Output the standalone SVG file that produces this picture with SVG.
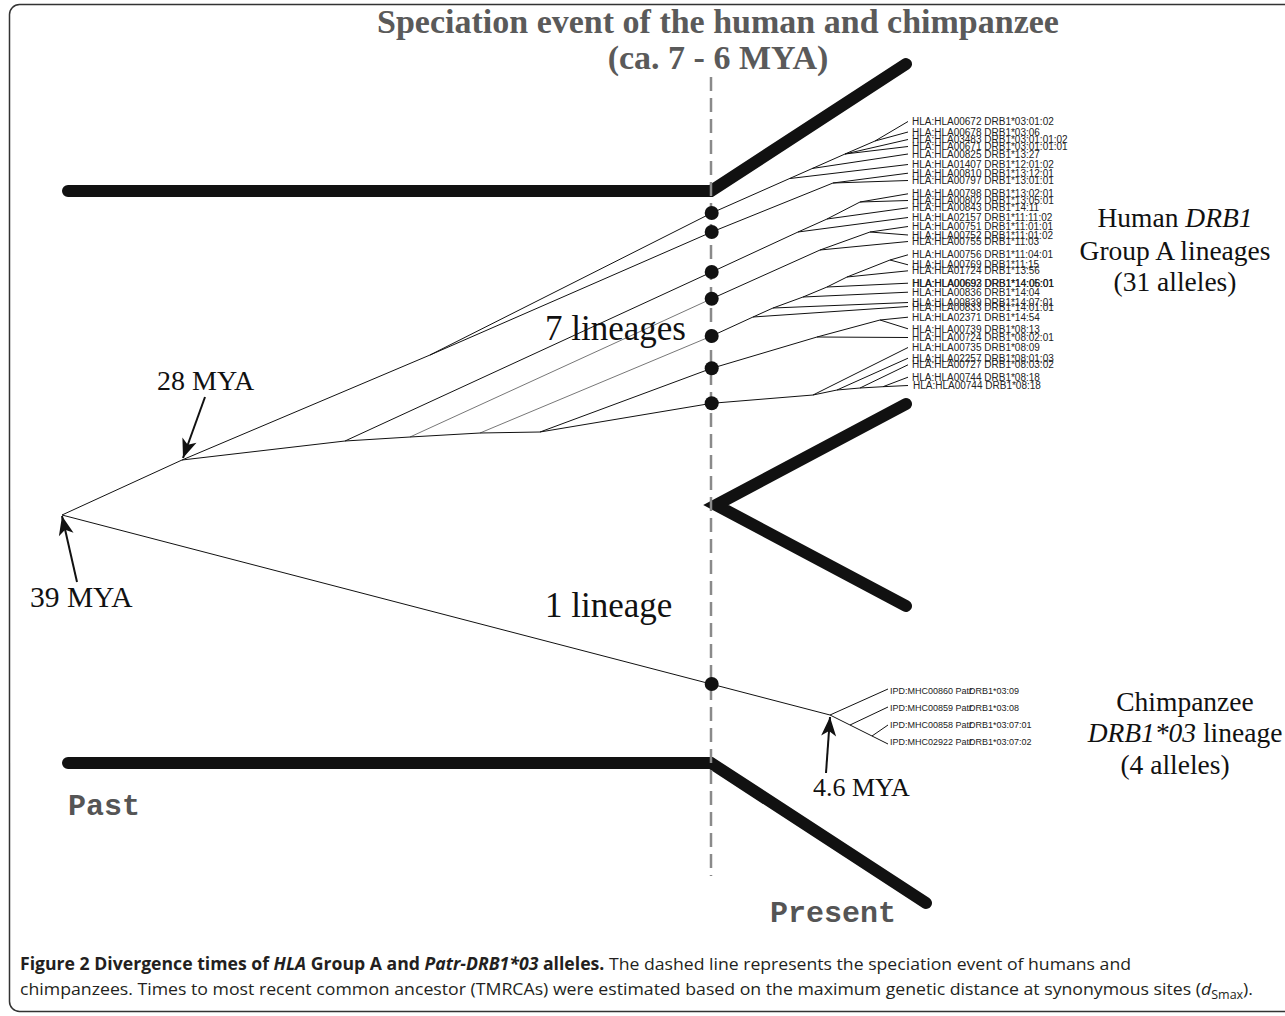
<svg xmlns="http://www.w3.org/2000/svg" width="1285" height="1016" viewBox="0 0 1285 1016">
<defs>
<marker id="arr" viewBox="-20 -9 22 18" refX="0" refY="0" markerWidth="22" markerHeight="18" markerUnits="userSpaceOnUse" orient="auto">
<path d="M0,0 L-19,-7.5 L-14,0 L-19,7.5 Z" fill="#111"/>
</marker>
</defs>
<style>
.frame{fill:none;stroke:#333;stroke-width:1.5}
.thick{fill:none;stroke:#111;stroke-width:12;stroke-linecap:round;stroke-linejoin:miter}
.dash{stroke:#8a8a8a;stroke-width:2.5;stroke-dasharray:14 7;fill:none}
.br{fill:none;stroke:#111;stroke-width:1}
.brg{fill:none;stroke:#777;stroke-width:1}
.dot{fill:#111}
.lbl{font-family:"Liberation Sans",Arial,sans-serif;font-size:10px;fill:#222}
.clbl{font-family:"Liberation Sans",Arial,sans-serif;font-size:9px;fill:#222}
.serif{font-family:"Liberation Serif","Times New Roman",serif;fill:#111}
.title{font-family:"Liberation Serif","Times New Roman",serif;font-weight:bold;font-size:34px;fill:#5a5a5a}
.mono{font-family:"Liberation Mono","Courier New",monospace;font-weight:bold;font-size:30px;fill:#555}
.cap{font-family:"Open Sans","Noto Sans",sans-serif;font-size:17px;fill:#231f20}
.arrow{stroke:#111;stroke-width:2;fill:none}
</style>
<rect class="frame" x="9.5" y="4.5" width="1300" height="1007" rx="10"/>

<g id="title">
<text class="title" x="718" y="33" text-anchor="middle">Speciation event of the human and chimpanzee</text>
<text class="title" x="718" y="69" text-anchor="middle">(ca. 7 - 6 MYA)</text>
</g>

<g id="bands">
<path class="thick" d="M68,191 H711 L906,64"/>
<path class="thick" d="M906,404 L716,505 L906,606"/>
<path class="thick" d="M68,763 H711 L926,903"/>
</g>

<line id="speciation" class="dash" x1="711" y1="77" x2="711" y2="876"/>

<g id="connectors">
<polyline class="br" points="62,515 182,460 430,355 711.7,213"/>
<polyline class="br" points="430,355 711.7,232"/>
<polyline class="br" points="182,460 345,441 711.7,272"/>
<polyline class="br" points="345,441 410,437"/>
<polyline class="brg" points="410,437 711.7,298.7"/>
<polyline class="br" points="410,437 480,433"/>
<polyline class="brg" points="480,433 711.7,336"/>
<polyline class="br" points="480,433 540,432 711.7,368.3"/>
<polyline class="br" points="540,432 711.7,403.3"/>
<polyline class="br" points="62,515 830,715"/>
<!-- L1 -->
<polyline class="br" points="711.7,213 845,154 875,141 908,121.5"/>
<polyline class="br" points="875,141 908,132"/>
<polyline class="br" points="845,154 908,139.5"/>
<polyline class="br" points="845,154 908,146.5"/>
<polyline class="br" points="812,168.5 908,154"/>
<polyline class="br" points="790,178.5 908,164.5"/>
<!-- L2 -->
<polyline class="br" points="711.7,232 833,183 908,173.2"/>
<polyline class="br" points="833,183 908,180.5"/>
<!-- L3 -->
<polyline class="br" points="711.7,272 798,232 827,219 860,202 908,193.8"/>
<polyline class="br" points="860,202 908,200.5"/>
<polyline class="br" points="827,219 908,207.8"/>
<polyline class="br" points="798,232 908,217.5"/>
<!-- L4 -->
<polyline class="br" points="711.7,298.7 820,250 870,232 908,226.5"/>
<polyline class="br" points="870,232 908,235"/>
<polyline class="br" points="820,250 908,241.5"/>
<!-- L5 -->
<polyline class="br" points="711.7,336 753,317 773,308 803,297 827,287 847,277 890,260 908,254.8"/>
<polyline class="br" points="890,260 908,264.8"/>
<polyline class="br" points="847,277 908,270.8"/>
<polyline class="br" points="827,287 908,283.2"/>
<polyline class="br" points="803,297 908,292.2"/>
<polyline class="br" points="773,308 908,302.5"/>
<polyline class="br" points="753,317 908,306.5"/>
<!-- L6 -->
<polyline class="br" points="711.7,368.3 817,337 880,320 908,317.2"/>
<polyline class="br" points="880,320 908,328.8"/>
<polyline class="br" points="817,337 908,337.5"/>
<!-- L7 -->
<polyline class="br" points="711.7,403.3 813,395 837,390 860,388 883,386.7 908,385.5"/>
<polyline class="br" points="813,395 908,347.5"/>
<polyline class="br" points="837,390 908,358.2"/>
<polyline class="br" points="860,388 908,364.8"/>
<polyline class="br" points="883,386.7 908,377.2"/>
<!-- chimp -->
<polyline class="br" points="830,715 888,689"/>
<polyline class="br" points="830,715 850,725 888,744"/>
<polyline class="br" points="850,725 888,707"/>
<polyline class="br" points="872,736 888,725"/>
<!-- arrows -->
<line class="arrow" x1="205" y1="397" x2="183" y2="458" marker-end="url(#arr)"/>
<line class="arrow" x1="77" y1="582" x2="62" y2="516" marker-end="url(#arr)"/>
<line class="arrow" x1="826" y1="773" x2="830" y2="717" marker-end="url(#arr)"/>
</g>

<g id="dots">
<circle id="d1" class="dot" cx="711.7" cy="213" r="7"/>
<circle id="d2" class="dot" cx="711.7" cy="232" r="7"/>
<circle id="d3" class="dot" cx="711.7" cy="272" r="7"/>
<circle id="d4" class="dot" cx="711.7" cy="298.7" r="7"/>
<circle id="d5" class="dot" cx="711.7" cy="336" r="7"/>
<circle id="d6" class="dot" cx="711.7" cy="368.3" r="7"/>
<circle id="d7" class="dot" cx="711.7" cy="403.3" r="7"/>
<circle id="d8" class="dot" cx="711.7" cy="684" r="7"/>
</g>

<g id="human-alleles" class="lbl">
<text x="912" y="125">HLA:HLA00672 DRB1*03:01:02</text>
<text x="912" y="135.5">HLA:HLA00678 DRB1*03:06</text>
<text x="912" y="143">HLA:HLA03483 DRB1*03:01:01:02</text>
<text x="912" y="150">HLA:HLA00671 DRB1*03:01:01:01</text>
<text x="912" y="157.5">HLA:HLA00825 DRB1*13:27</text>
<text x="912" y="168">HLA:HLA01407 DRB1*12:01:02</text>
<text x="912" y="176.7">HLA:HLA00810 DRB1*13:12:01</text>
<text x="912" y="184">HLA:HLA00797 DRB1*13:01:01</text>
<text x="912" y="197.3">HLA:HLA00798 DRB1*13:02:01</text>
<text x="912" y="204">HLA:HLA00802 DRB1*13:05:01</text>
<text x="912" y="211.3">HLA:HLA00843 DRB1*14:11</text>
<text x="912" y="221">HLA:HLA02157 DRB1*11:11:02</text>
<text x="912" y="230">HLA:HLA00751 DRB1*11:01:01</text>
<text x="912" y="238.5">HLA:HLA00752 DRB1*11:01:02</text>
<text x="912" y="245">HLA:HLA00755 DRB1*11:03</text>
<text x="912" y="258.3">HLA:HLA00756 DRB1*11:04:01</text>
<text x="912" y="268.3">HLA:HLA00769 DRB1*11:15</text>
<text x="912" y="274.3">HLA:HLA01724 DRB1*13:56</text>
<text x="912" y="286.7">HLA:HLA00692 DRB1*14:05:01</text>
<text x="912.4" y="286.9">HLA:HLA00693 DRB1*14:06:01</text>
<text x="912" y="295.7">HLA:HLA00836 DRB1*14:04</text>
<text x="912" y="306">HLA:HLA00839 DRB1*14:07:01</text>
<text x="912" y="310.5">HLA:HLA00833 DRB1*14:01:01</text>
<text x="912" y="320.7">HLA:HLA02371 DRB1*14:54</text>
<text x="912" y="332.5">HLA:HLA00739 DRB1*08:13</text>
<text x="912" y="341">HLA:HLA00724 DRB1*08:02:01</text>
<text x="912" y="351">HLA:HLA00735 DRB1*08:09</text>
<text x="912" y="361.7">HLA:HLA02257 DRB1*08:01:03</text>
<text x="912" y="368.3">HLA:HLA00727 DRB1*08:03:02</text>
<text x="912" y="380.7">HLA:HLA00744 DRB1*08:18</text>
<text x="913" y="389">HLA:HLA00744 DRB1*08:18</text>
</g>

<g id="chimp-alleles" class="clbl">
<text x="890" y="694">IPD:MHC00860 Patr</text><text x="969" y="694">DRB1*03:09</text>
<text x="890" y="711">IPD:MHC00859 Patr</text><text x="969" y="711">DRB1*03:08</text>
<text x="890" y="728">IPD:MHC00858 Patr</text><text x="969" y="728">DRB1*03:07:01</text>
<text x="890" y="745">IPD:MHC02922 Patr</text><text x="969" y="745">DRB1*03:07:02</text>
</g>

<g id="labels" class="serif">
<text x="545" y="340" font-size="35">7 lineages</text>
<text x="545" y="617" font-size="35">1 lineage</text>
<text x="157" y="390" font-size="28">28 MYA</text>
<text x="30" y="607" font-size="29.5">39 MYA</text>
<text x="813" y="796" font-size="26">4.6 MYA</text>
<text x="1175" y="227" font-size="27.5" text-anchor="middle">Human <tspan font-style="italic">DRB1</tspan></text>
<text x="1175" y="260" font-size="27.5" text-anchor="middle">Group A lineages</text>
<text x="1175" y="291" font-size="27.5" text-anchor="middle">(31 alleles)</text>
<text x="1185" y="711" font-size="27.5" text-anchor="middle">Chimpanzee</text>
<text x="1185" y="742" font-size="27.5" text-anchor="middle"><tspan font-style="italic">DRB1*03</tspan> lineage</text>
<text x="1175" y="774" font-size="27.5" text-anchor="middle">(4 alleles)</text>
</g>

<g id="time-axis">
<text class="mono" x="68" y="815">Past</text>
<text class="mono" x="770" y="922">Present</text>
</g>

<g id="caption" class="cap">
<text x="20" y="970" textLength="1111" lengthAdjust="spacingAndGlyphs"><tspan font-weight="bold">Figure 2 Divergence times of <tspan font-style="italic">HLA</tspan> Group A and <tspan font-style="italic">Patr-DRB1*03</tspan> alleles.</tspan> The dashed line represents the speciation event of humans and</text>
<text x="20" y="995" textLength="1233" lengthAdjust="spacingAndGlyphs">chimpanzees. Times to most recent common ancestor (TMRCAs) were estimated based on the maximum genetic distance at synonymous sites (<tspan font-style="italic">d</tspan><tspan font-size="12" dy="4">Smax</tspan><tspan dy="-4">).</tspan></text>
</g>
</svg>
